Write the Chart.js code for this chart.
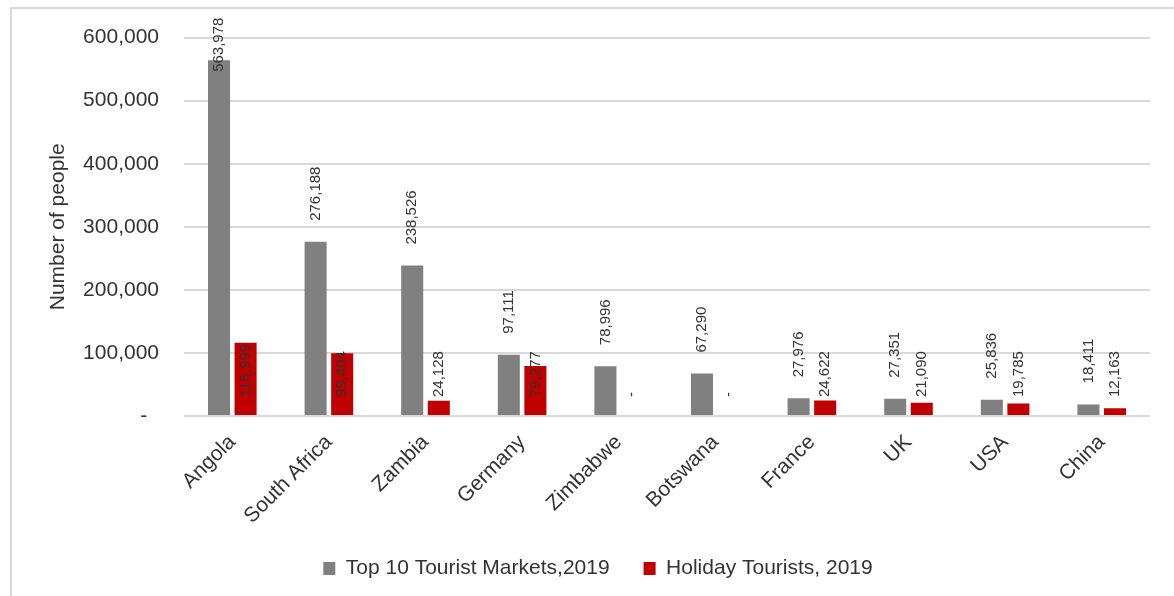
<!DOCTYPE html>
<html>
<head>
<meta charset="utf-8">
<script src="https://cdn.jsdelivr.net/npm/chart.js@4.4.1/dist/chart.umd.min.js"></script>
<style>
  html, body { margin: 0; padding: 0; background: #ffffff; }
  #wrap { position: relative; width: 1174px; height: 596px; }
</style>
</head>
<body>
<div id="wrap"><canvas id="c" width="1174" height="596"></canvas></div>
<script>
const categories = ["Angola", "South Africa", "Zambia", "Germany", "Zimbabwe", "Botswana", "France", "UK", "USA", "China"];
const topMarkets2019 = [563978, 276188, 238526, 97111, 78996, 67290, 27976, 27351, 25836, 18411];
const holidayTourists2019 = [115999, 99404, 24128, 79277, 0, 0, 24622, 21090, 19785, 12163];
const seriesNames = ["Top 10 Tourist Markets,2019", "Holiday Tourists, 2019"];
const yTickValues = [0, 100000, 200000, 300000, 400000, 500000, 600000];

const FONT = "'Liberation Sans', Arial, sans-serif";
const TEXT = '#333333';
const GRID = '#d9d9d9';

const fmt = v => v === 0 ? '-' : v.toLocaleString('en-US');

const frame = {
  id: 'frame',
  beforeDraw(chart) {
    const ctx = chart.ctx;
    ctx.save();
    ctx.strokeStyle = GRID;
    ctx.lineWidth = 2;
    ctx.strokeRect(11, 8, 1300, 800);
    ctx.restore();
  }
};

const barLabels = {
  id: 'barLabels',
  afterDatasetsDraw(chart) {
    const ctx = chart.ctx;
    const area = chart.chartArea;
    ctx.save();
    ctx.font = '15px ' + FONT;
    ctx.fillStyle = TEXT;
    ctx.textAlign = 'left';
    ctx.textBaseline = 'middle';
    chart.data.datasets.forEach((ds, di) => {
      const meta = chart.getDatasetMeta(di);
      meta.data.forEach((bar, i) => {
        const txt = fmt(ds.data[i]);
        const w = ctx.measureText(txt).width;
        let y;
        if (di === 0) {
          y = Math.max(bar.y - 21, area.top - 20 + w);
        } else {
          y = area.bottom - 19;
        }
        ctx.save();
        ctx.translate(bar.x, y);
        ctx.rotate(-Math.PI / 2);
        ctx.fillText(txt, 0, 0);
        ctx.restore();
      });
    });
    ctx.restore();
  }
};

new Chart(document.getElementById('c'), {
  type: 'bar',
  data: {
    labels: categories,
    datasets: [
      { label: seriesNames[0], data: topMarkets2019, backgroundColor: '#808080',
        categoryPercentage: 0.55, barPercentage: 0.83 },
      { label: seriesNames[1], data: holidayTourists2019, backgroundColor: '#c00000',
        categoryPercentage: 0.55, barPercentage: 0.83 }
    ]
  },
  options: {
    responsive: false,
    animation: false,
    devicePixelRatio: 1,
    layout: { padding: { left: 46, right: 24, top: 37, bottom: 7 } },
    plugins: {
      tooltip: { enabled: false },
      legend: {
        position: 'bottom',
        labels: {
          font: { size: 21, family: FONT },
          color: TEXT,
          boxWidth: 12,
          boxHeight: 13,
          padding: 34
        }
      }
    },
    scales: {
      x: {
        grid: { display: false },
        border: { display: false },
        ticks: {
          autoSkip: false,
          maxRotation: 45,
          minRotation: 45,
          padding: 6,
          font: { size: 21, family: FONT },
          color: TEXT
        },
        afterFit(scale) { scale.height = 108; }
      },
      y: {
        min: 0,
        max: 600000,
        afterBuildTicks(scale) { scale.ticks = yTickValues.map(v => ({ value: v })); },
        grid: { color: GRID, lineWidth: 2, drawTicks: false },
        border: { display: false },
        ticks: {
          padding: 25,
          font: { size: 21, family: FONT },
          color: TEXT,
          callback: v => v === 0 ? '-  ' : v.toLocaleString('en-US')
        },
        title: {
          display: true,
          text: 'Number of people',
          font: { size: 21, family: FONT },
          color: TEXT,
          padding: { top: 0, bottom: 0 }
        },
        afterFit(scale) { scale.width = 138; }
      }
    }
  },
  plugins: [frame, barLabels]
});
</script>
</body>
</html>
